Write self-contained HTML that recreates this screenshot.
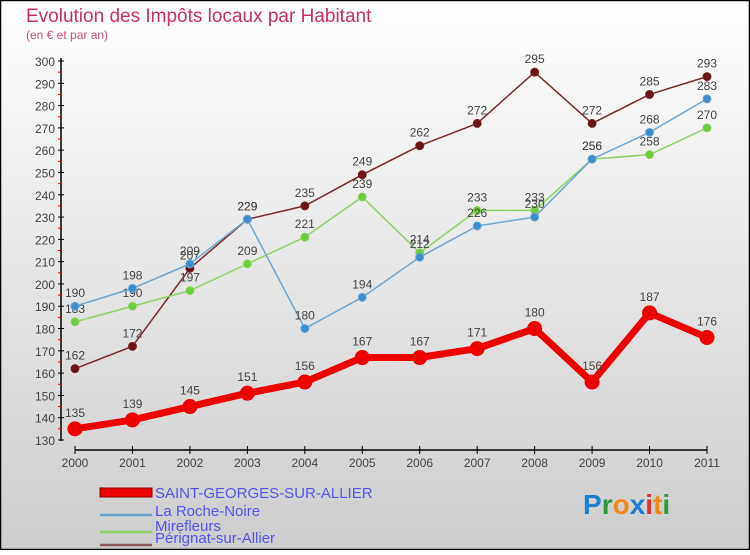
<!DOCTYPE html>
<html><head><meta charset="utf-8"><style>
body{margin:0;}
#c{width:750px;height:550px;position:relative;font-family:"Liberation Sans",sans-serif;}
</style></head><body>
<div id="c">
<svg id="s" width="750" height="550" xmlns="http://www.w3.org/2000/svg" font-family="Liberation Sans, sans-serif">
<defs><linearGradient id="bg" x1="0" y1="0" x2="0" y2="1"><stop offset="0" stop-color="#ffffff"/><stop offset="1" stop-color="#cdcdcd"/></linearGradient></defs>
<rect x="0.5" y="0.5" width="749" height="549" fill="url(#bg)" stroke="#000" stroke-width="1.5"/>
<text x="26" y="22" font-size="19" fill="#c8305e">Evolution des Impôts locaux par Habitant</text>
<text x="26" y="39" font-size="12" fill="#c8507a">(en € et par an)</text>
<g id="axes"></g><g id="series"></g>
<g>
<rect x="100" y="488" width="52" height="9" fill="#e00" stroke="#800" stroke-width="1"/>
<text x="155" y="498" font-size="15" fill="#5555ee">SAINT-GEORGES-SUR-ALLIER</text>
<line x1="100" y1="515" x2="152" y2="515" stroke="#6fa8d0" stroke-width="2.5"/>
<text x="155" y="516" font-size="15" fill="#5555ee">La Roche-Noire</text>
<line x1="100" y1="532" x2="152" y2="532" stroke="#8ed46a" stroke-width="2.5"/>
<text x="155" y="531" font-size="15" fill="#5555ee">Mirefleurs</text>
<line x1="100" y1="545" x2="152" y2="545" stroke="#8a5a5a" stroke-width="2.5"/>
<text x="155" y="543" font-size="15" fill="#5555ee">Pérignat-sur-Allier</text>
</g>
<text x="583" y="514" font-size="28" font-weight="bold"><tspan fill="#1a7fd0">P</tspan><tspan fill="#2a9a3a">r</tspan><tspan fill="#f08a10">o</tspan><tspan fill="#1a7fd0">x</tspan><tspan fill="#e03030">i</tspan><tspan fill="#f08a10">t</tspan><tspan fill="#2a9a3a">i</tspan></text>
</svg></div>
<script>
var years=["2000","2001","2002","2003","2004","2005","2006","2007","2008","2009","2010","2011"];
var yTicks=[130,140,150,160,170,180,190,200,210,220,230,240,250,260,270,280,290,300];
var sgValues=[135,139,145,151,156,167,167,171,180,156,187,176];
var lrnValues=[190,198,209,229,180,194,212,226,230,256,268,283];
var mirValues=[183,190,197,209,221,239,214,233,233,256,258,270];
var perValues=[162,172,207,229,235,249,262,272,295,272,285,293];
var NS="http://www.w3.org/2000/svg";
function X(i){return 75+i*(632/(years.length-1));}
function Y(v){return 61+(300-v)*(379/170);}
function mk(t,a,p){var e=document.createElementNS(NS,t);for(var k in a)e.setAttribute(k,a[k]);p.appendChild(e);return e;}
var ax=document.getElementById('axes');
var l=mk('line',{x1:61,y1:58,x2:61,y2:441,stroke:'#000','stroke-width':1.5},ax);


yTicks.forEach(function(v,i){
 var y=Y(v);
 mk('line',{x1:58,y1:y,x2:64,y2:y,stroke:'#000'},ax);
 if(i<yTicks.length-1)mk('line',{x1:58,y1:y-11.15,x2:61,y2:y-11.15,stroke:'#e00'},ax);
 var t=mk('text',{x:55,y:y+5,'font-size':12,fill:'#444','text-anchor':'end'},ax);t.textContent=v;
 
 
});
var xl=mk('line',{x1:75,y1:450,x2:707,y2:450,stroke:'#000','stroke-width':1.5},ax);


years.forEach(function(yr,i){
 mk('line',{x1:X(i),y1:446,x2:X(i),y2:454,stroke:'#000'},ax);
 var t=mk('text',{x:X(i),y:467,'font-size':12,fill:'#444','text-anchor':'middle'},ax);t.textContent=yr;
 
 
});
var sg=document.getElementById('series');
function series(vals,name,col,dot,w,r,fs){
 var g=mk('g',{},sg);
 
 
 var pts=vals.map(function(v,i){return X(i)+','+Y(v);}).join(' ');
 mk('polyline',{points:pts,fill:'none',stroke:col,'stroke-width':w,'stroke-linejoin':'round'},g);
 vals.forEach(function(v,i){
  var c=mk('circle',{cx:X(i),cy:Y(v),r:r,fill:dot,stroke:col,'stroke-width':1},g);
  
  
  var t=mk('text',{x:X(i),y:Y(v)-r-5,'font-size':fs,fill:'#444','text-anchor':'middle'},g);t.textContent=v;
  
  
 });
}
series(perValues,'perignat','#7a2a2a','#6a1515',1.5,4,12);
series(mirValues,'mirefleurs','#8ed46a','#6ccc3a',1.5,4,12);
series(lrnValues,'la-roche-noire','#6fa8d0','#3a8ccc',1.5,4,12);
series(sgValues,'saint-georges','#ee0000','#ee0000',7,7,12);
</script>
</body></html>
